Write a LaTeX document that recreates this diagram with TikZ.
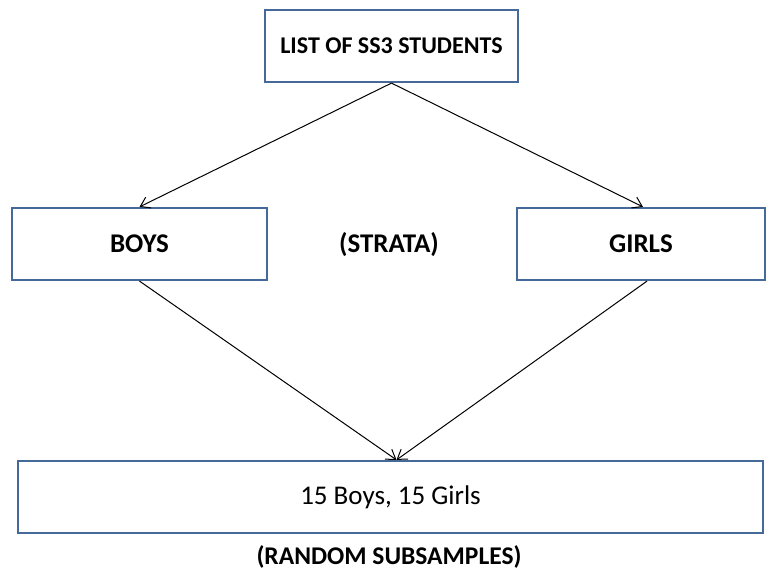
\documentclass[tikz,border=0pt]{standalone}
\usepackage{fontspec}
\setmainfont{Carlito}
\usetikzlibrary{arrows.meta}
\definecolor{boxblue}{RGB}{70,105,155}

\begin{document}
\begin{tikzpicture}[x=1pt,y=-1pt]
\tikzset{box/.style={draw=boxblue,line width=2.2pt,minimum height=72pt,inner sep=0pt}}
\tikzset{lab/.style={font=\bfseries\fontsize{27}{30}\selectfont}}
\tikzset{link/.style={-{Straight Barb[length=9pt,width=12pt]},line width=1pt}}
\useasboundingbox (0,0) rectangle (768,578);
\node[box,minimum width=253pt,font=\bfseries\fontsize{24}{28}\selectfont] (list) at (391.5,46) {LIST OF SS3 STUDENTS};
\node[box,lab,minimum width=255pt] (boys) at (139.5,244) {BOYS};
\node[box,lab,minimum width=248pt] (girls) at (641,244) {GIRLS};
\node[lab] (strata) at (389,245) {(STRATA)};
\node[box,minimum width=745pt,font=\fontsize{27}{30}\selectfont] (sub) at (390.5,497) {15 Boys, 15 Girls};
\node[font=\bfseries\fontsize{25.5}{29}\selectfont] (rand) at (389,557) {(RANDOM SUBSAMPLES)};
\draw[link] (list.south) -- (boys.north);
\draw[link] (list.south) -- ([xshift=2pt]girls.north);
\draw[link] (boys.south) -- ([xshift=6pt]sub.north);
\draw[link] ([xshift=6pt]girls.south) -- ([xshift=6pt]sub.north);
\end{tikzpicture}
\end{document}
